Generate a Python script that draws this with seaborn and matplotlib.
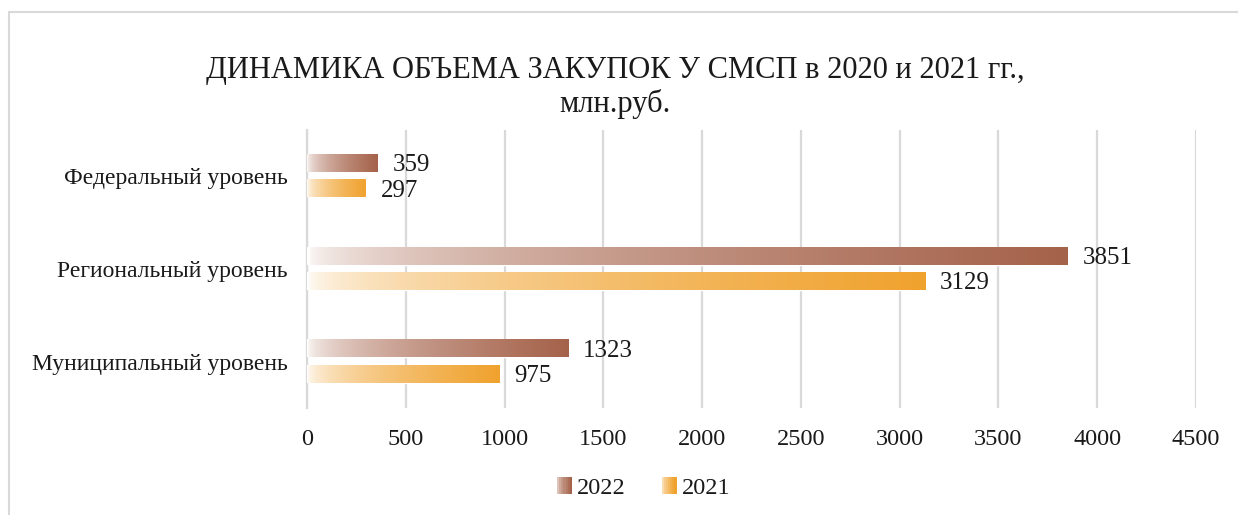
import numpy as np
import pandas as pd
import matplotlib.pyplot as plt
import seaborn as sns
from matplotlib.colors import to_rgb
from matplotlib.patches import Rectangle, Patch
from matplotlib.legend_handler import HandlerBase

# ---- data ----
categories = ["Федеральный уровень", "Региональный уровень", "Муниципальный уровень"]
years = ["2022", "2021"]
values_2022 = [359, 3851, 1323]
values_2021 = [297, 3129, 975]
xticks = [0, 500, 1000, 1500, 2000, 2500, 3000, 3500, 4000, 4500]

colors = {"2022": "#A5624A", "2021": "#F0A22E"}

df = pd.DataFrame({
    "category": categories * 2,
    "year": ["2022"] * 3 + ["2021"] * 3,
    "value": values_2022 + values_2021,
})

sns.set_style("white")
plt.rcParams['font.family'] = ['Liberation Serif', 'DejaVu Serif']
TXT = "#1a1a1a"


def gradient_rgb(color, n=256):
    c = np.array(to_rgb(color))
    t = np.linspace(0, 1, n) ** 0.5
    return (1 - t)[:, None] * np.ones(3) + t[:, None] * c


fig = plt.figure(figsize=(12.38, 5.15), dpi=100)
ax = fig.add_axes([0.248, 0.208, 0.718, 0.540])

sns.barplot(data=df, y="category", x="value", hue="year", hue_order=years,
            palette=colors, orient="h", width=0.55, gap=0.33, ax=ax,
            legend=False, saturation=1)

# gradient fill for each bar
for cont, yr in zip(ax.containers, years):
    grad = gradient_rgb(colors[yr])[None, :, :]
    for bar, val in zip(cont, cont.datavalues):
        x0, y0 = bar.get_x(), bar.get_y()
        w, h = bar.get_width(), bar.get_height()
        bar.set_facecolor("none")
        ax.imshow(grad, extent=(x0, x0 + w, y0 + h, y0), aspect="auto",
                  interpolation="bilinear", zorder=3)
        ax.text(x0 + w + 75, y0 + h / 2 + 0.02, f"{int(val)}", va="center",
                ha="left", fontsize=18, color=TXT, zorder=4)

ax.set_xlim(0, 4500)
ax.set_ylim(2.5, -0.5)
ax.set_xticks(xticks)
ax.set_xticklabels([str(v) for v in xticks], fontsize=17.5, color=TXT)
ax.tick_params(axis="y", labelsize=17, length=0, pad=14, labelcolor=TXT)
ax.tick_params(axis="x", length=0, pad=15)
ax.set_xlabel("")
ax.set_ylabel("")
ax.grid(axis="x", color="#D9D9D9", linewidth=1.6, zorder=0)
ax.set_axisbelow(True)
for s in ["top", "right", "bottom"]:
    ax.spines[s].set_visible(False)
ax.spines["left"].set_color("#D9D9D9")
ax.spines["left"].set_linewidth(1.6)

fig.text(0.497, 0.830, "ДИНАМИКА ОБЪЕМА ЗАКУПОК У СМСП в 2020 и 2021 гг.,\nмлн.руб.",
         ha="center", va="center", fontsize=22, color=TXT, linespacing=1.15)


class GradientHandler(HandlerBase):
    def create_artists(self, legend, orig_handle, xdescent, ydescent,
                       width, height, fontsize, trans):
        cols = gradient_rgb(orig_handle.get_facecolor(), n=8)
        size = height * 1.0
        x0 = xdescent + width - size
        arts = []
        for i, c in enumerate(cols):
            arts.append(Rectangle((x0 + i * size / 8, -ydescent), size / 8, size,
                                  facecolor=c, edgecolor="none", transform=trans))
        return arts


handles = [Patch(facecolor=colors[y], label=y) for y in years]
fig.legend(handles=handles, labels=years, loc="center", bbox_to_anchor=(0.517, 0.052),
           ncol=2, frameon=False, fontsize=17.5, handler_map={Patch: GradientHandler()},
           handlelength=0.9, handletextpad=0.2, columnspacing=1.2, labelcolor=TXT)

# outer chart border
fig.patches.append(Rectangle((9 / 1238, -0.05), 1.1, 1.05 - 12 / 515,
                             transform=fig.transFigure, fill=False,
                             edgecolor="#D9D9D9", linewidth=1.5))

fig.savefig("out.png", dpi=100)
